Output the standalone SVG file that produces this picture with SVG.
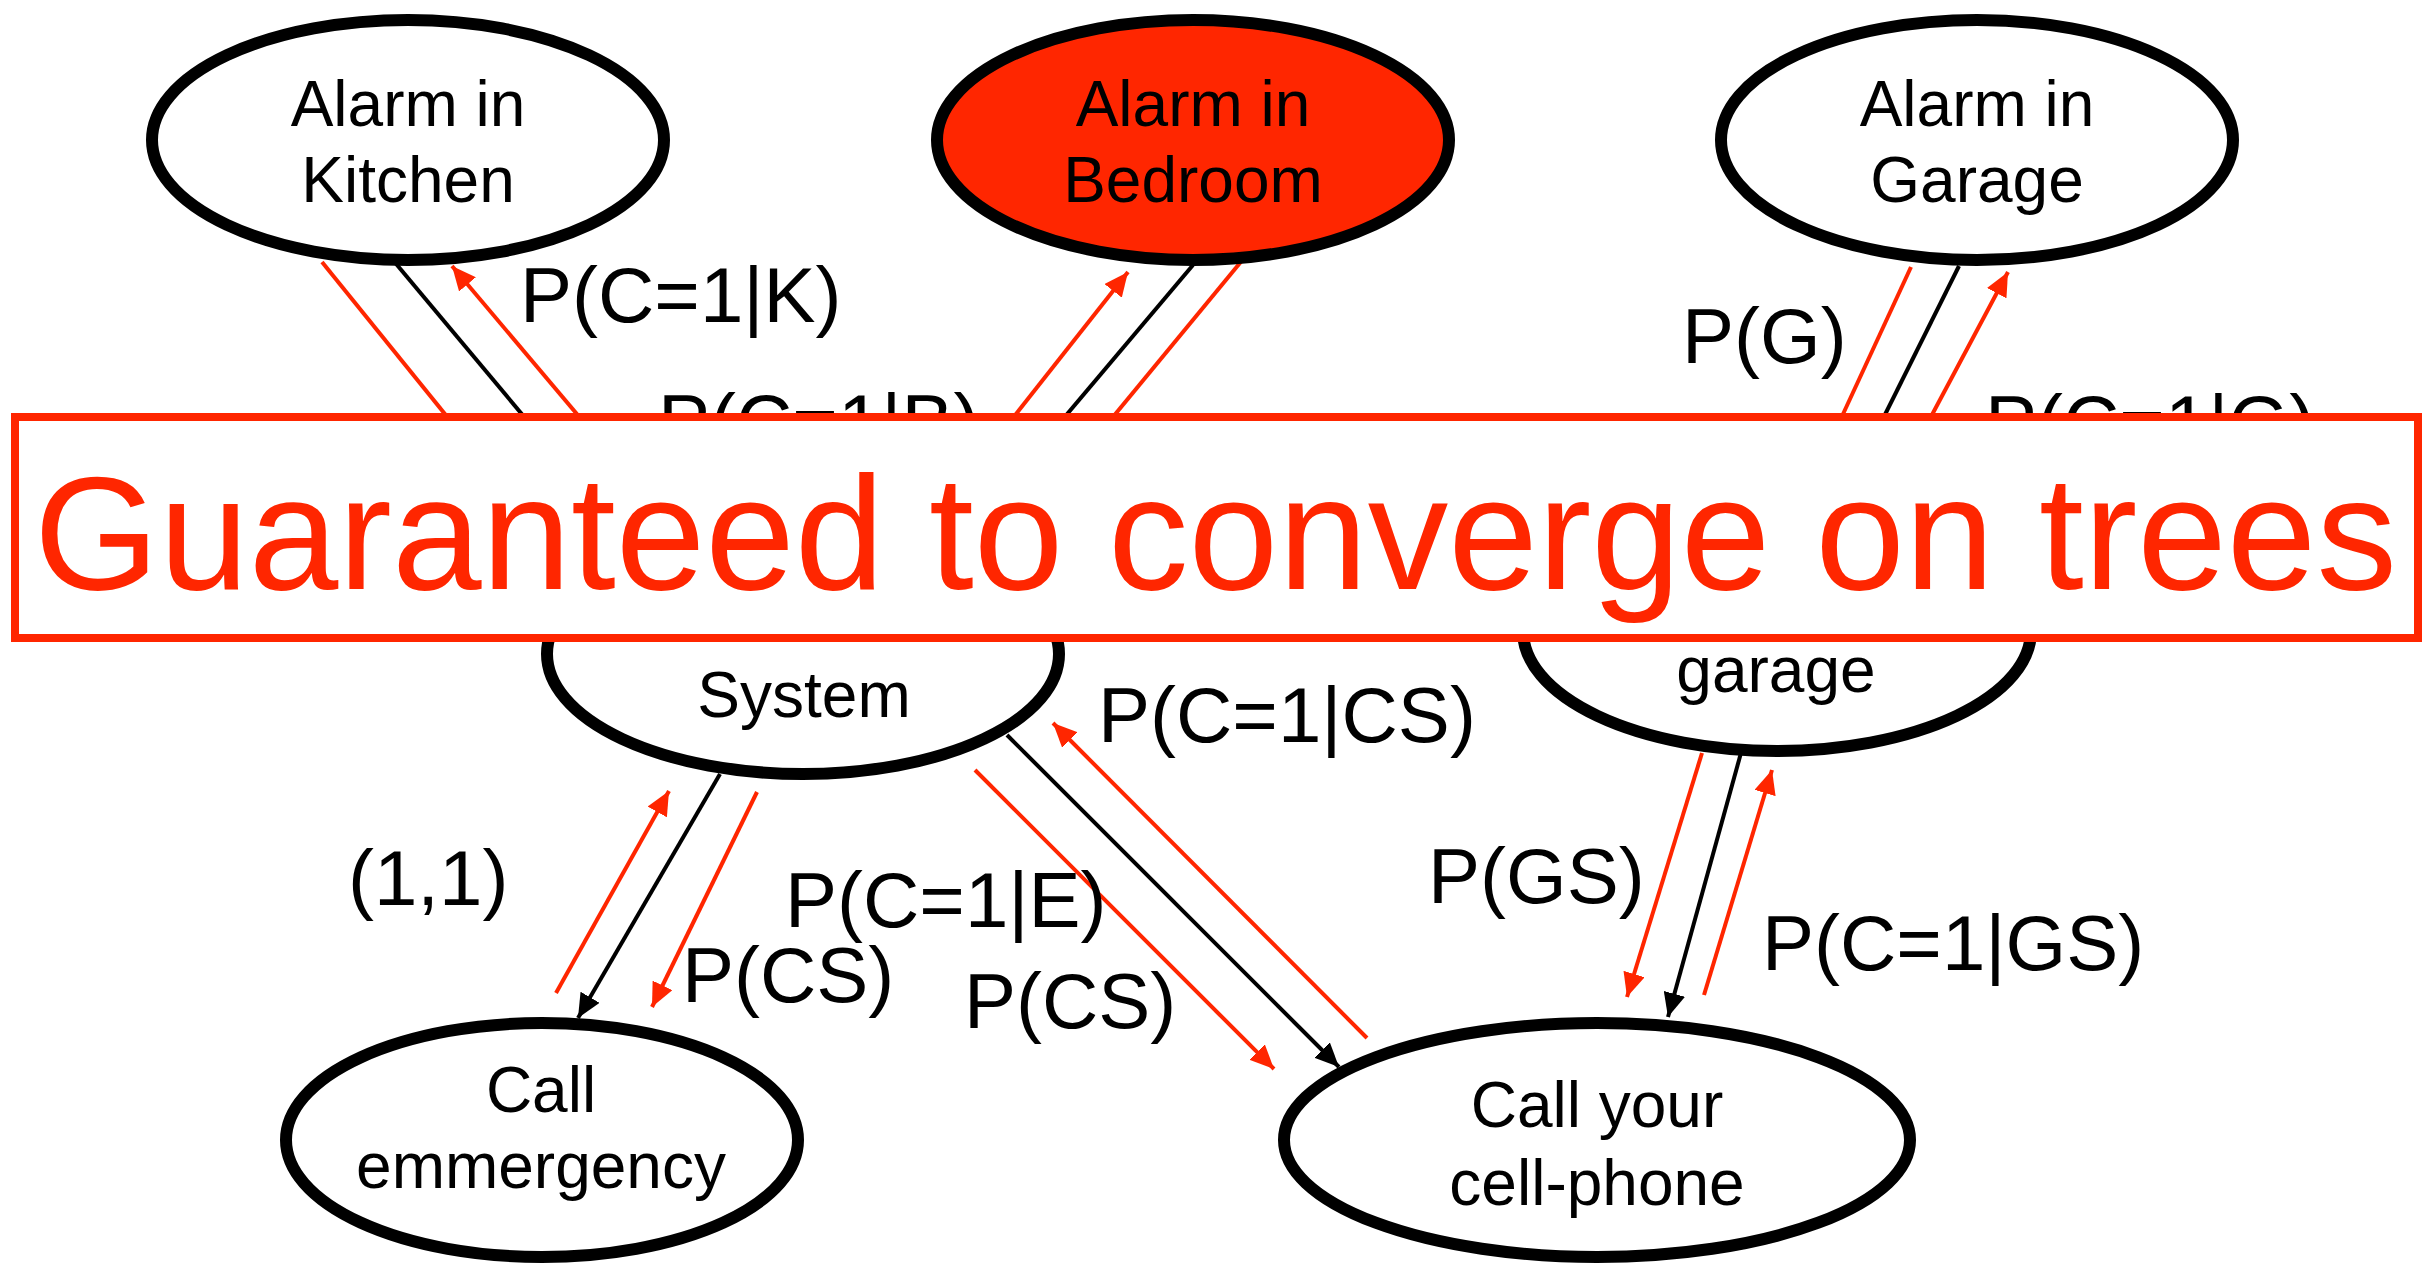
<svg xmlns="http://www.w3.org/2000/svg" width="2430" height="1265" viewBox="0 0 2430 1265">
<style>
.node{fill:#ffffff;stroke:#000000;stroke-width:12}
.hot{fill:#ff2600}
.nt{font-family:"Liberation Sans",Arial,sans-serif;font-size:64px;fill:#000000;text-anchor:middle}
.lb{font-family:"Liberation Sans",Arial,sans-serif;font-size:78px;fill:#000000}
.r{stroke:#ff2600;stroke-width:4;fill:none}
.b{stroke:#000000;stroke-width:4;fill:none}
.ra{stroke:#ff2600;stroke-width:4;fill:none;marker-end:url(#ar)}
.ba{stroke:#000000;stroke-width:4;fill:none;marker-end:url(#ab)}
</style>
<defs>
<marker id="ar" markerUnits="userSpaceOnUse" markerWidth="24" markerHeight="22" refX="24" refY="11" orient="auto"><path d="M0,0 L24,11 L0,22 z" fill="#ff2600"/></marker>
<marker id="ab" markerUnits="userSpaceOnUse" markerWidth="24" markerHeight="22" refX="24" refY="11" orient="auto"><path d="M0,0 L24,11 L0,22 z" fill="#000000"/></marker>
</defs>
<rect width="2430" height="1265" fill="#ffffff"/>
<g id="connectors">
<line class="r" x1="322" y1="262" x2="563" y2="560"/>
<line class="b" x1="387" y1="253" x2="644" y2="560"/>
<line class="ra" x1="700" y1="560" x2="452" y2="266"/>
<line class="ra" x1="901" y1="560" x2="1128" y2="272"/>
<line class="b" x1="1193" y1="265" x2="944" y2="560"/>
<line class="r" x1="1249" y1="252" x2="995" y2="560"/>
<line class="r" x1="1911" y1="267" x2="1801" y2="505"/>
<line class="b" x1="1959" y1="266" x2="1840" y2="505"/>
<line class="ra" x1="1884" y1="505" x2="2008" y2="272"/>
<line class="ba" x1="720" y1="774" x2="578" y2="1018"/>
<line class="ra" x1="556" y1="993" x2="669" y2="791"/>
<line class="ra" x1="757" y1="792" x2="652" y2="1007"/>
<line class="ba" x1="1007" y1="735" x2="1339" y2="1067"/>
<line class="ra" x1="975" y1="770" x2="1274" y2="1069"/>
<line class="ra" x1="1367" y1="1038" x2="1053" y2="723"/>
<line class="ra" x1="1702" y1="753" x2="1627" y2="997"/>
<line class="ba" x1="1744" y1="742" x2="1668" y2="1017"/>
<line class="ra" x1="1704" y1="995" x2="1772" y2="770"/>
</g>
<g id="kitchen">
<ellipse class="node" cx="408" cy="140" rx="256" ry="120"/>
<text class="nt" x="408" y="126">Alarm in</text>
<text class="nt" x="408" y="202">Kitchen</text>
</g>
<g id="bedroom">
<ellipse class="node hot" cx="1193" cy="140" rx="256" ry="120"/>
<text class="nt" x="1193" y="126">Alarm in</text>
<text class="nt" x="1193" y="202">Bedroom</text>
</g>
<g id="garage">
<ellipse class="node" cx="1977" cy="140" rx="256" ry="120"/>
<text class="nt" x="1977" y="126">Alarm in</text>
<text class="nt" x="1977" y="202">Garage</text>
</g>
<g id="system">
<ellipse class="node" cx="803" cy="654" rx="256" ry="120"/>
<text class="nt" x="804" y="717">System</text>
</g>
<g id="garage-system">
<ellipse class="node" cx="1777" cy="631" rx="254" ry="120"/>
<text class="nt" x="1776" y="692">garage</text>
</g>
<g id="emergency">
<ellipse class="node" cx="542" cy="1140" rx="256" ry="117"/>
<text class="nt" x="541" y="1112">Call</text>
<text class="nt" x="541" y="1188">emmergency</text>
</g>
<g id="cellphone">
<ellipse class="node" cx="1597" cy="1140" rx="313" ry="117"/>
<text class="nt" x="1597" y="1127">Call your</text>
<text class="nt" x="1597" y="1205">cell-phone</text>
</g>
<g id="labels">
<text class="lb" x="520" y="322">P(C=1|K)</text>
<text class="lb" x="658" y="449">P(C=1|B)</text>
<text class="lb" x="1682" y="363">P(G)</text>
<text class="lb" x="1985" y="450">P(C=1|G)</text>
<text class="lb" x="1098" y="742">P(C=1|CS)</text>
<text class="lb" x="348" y="905">(1,1)</text>
<text class="lb" x="785" y="927">P(C=1|E)</text>
<text class="lb" x="682" y="1002">P(CS)</text>
<text class="lb" x="964" y="1028">P(CS)</text>
<text class="lb" x="1428" y="903">P(GS)</text>
<text class="lb" x="1762" y="970">P(C=1|GS)</text>
</g>
<g id="banner">
<rect x="15" y="417" width="2403" height="221" fill="#ffffff" stroke="#ff2600" stroke-width="8"/>
<text x="34" y="589" font-family="'Liberation Sans',Arial,sans-serif" font-size="161" fill="#ff2600">Guaranteed to converge on trees</text>
</g>
</svg>
